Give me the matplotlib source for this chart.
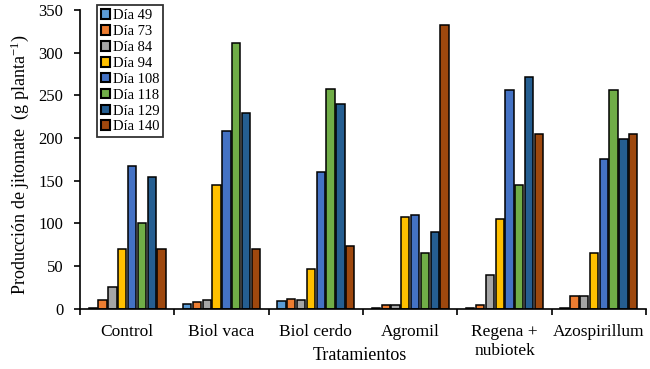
import numpy as np
import matplotlib.pyplot as plt
from matplotlib.patches import Patch

plt.rcParams['font.family'] = 'Liberation Serif'
plt.rcParams['mathtext.fontset'] = 'custom'
plt.rcParams['mathtext.rm'] = 'Liberation Serif'
plt.rcParams['mathtext.it'] = 'Liberation Serif:italic'

tratamientos = ['Control', 'Biol vaca', 'Biol cerdo', 'Agromil', 'Regena +\nnubiotek', 'Azospirillum']
dias = ['Día 49', 'Día 73', 'Día 84', 'Día 94', 'Día 108', 'Día 118', 'Día 129', 'Día 140']
colores = ['#5B9BD5', '#ED7D31', '#A5A5A5', '#FFC000', '#4472C4', '#70AD47', '#255E91', '#9E480E']

d49 = [1, 6, 9, 1, 1, 1]
d73 = [10, 8, 11, 4, 5, 15]
d84 = [26, 10, 10, 5, 40, 15]
d94 = [70, 145, 47, 107, 105, 65]
d108 = [167, 208, 160, 110, 256, 176]
d118 = [101, 311, 257, 65, 145, 256]
d129 = [154, 229, 240, 90, 271, 199]
d140 = [70, 70, 74, 332, 205, 205]
series = [d49, d73, d84, d94, d108, d118, d129, d140]

fig = plt.figure(figsize=(6.5, 3.69), dpi=100)
ax = fig.add_axes([0.123, 0.163, 0.871, 0.81])

x = np.arange(len(tratamientos)) + 0.5
pitch = 0.104
w = 0.088
for k in range(len(series)):
    ax.bar(x + (k - 3.5) * pitch, series[k], w, color=colores[k],
           edgecolor='black', linewidth=1.1, label=dias[k])

ax.set_xlim(0, 6)
ax.set_ylim(0, 350)
ax.set_yticks(np.arange(0, 351, 50))
ax.set_xticks(np.arange(0, 7))
ax.set_xticklabels([])
ax.set_xticks(x, minor=True)
ax.set_xticklabels(tratamientos, minor=True, fontsize=12.5, va='top', linespacing=1.25)
ax.tick_params(axis='x', which='minor', length=0, pad=11)
ax.tick_params(axis='x', which='major', length=4, width=1.2, direction='out')
ax.tick_params(axis='y', length=4, width=1.2, labelsize=12, pad=8)
ax.spines['top'].set_visible(False)
ax.spines['right'].set_visible(False)
ax.spines['left'].set_linewidth(1.2)
ax.spines['bottom'].set_linewidth(1.2)

handles = [Patch(facecolor=colores[k], edgecolor='black', linewidth=1.5) for k in range(8)]
leg = ax.legend(handles, dias, loc='upper left', bbox_to_anchor=(0.025, 1.025),
                fontsize=10.5, frameon=True, fancybox=False, borderpad=0.25,
                handlelength=0.65, handleheight=0.65, handletextpad=0.2,
                labelspacing=0.2, borderaxespad=0.2)
leg.get_frame().set_edgecolor('black')
leg.get_frame().set_linewidth(1.3)

fig.text(360 / 650, 1 - 355 / 369, 'Tratamientos', ha='center', va='center', fontsize=13)
fig.text(20 / 650, 1 - 165 / 369, 'Producción de jitomate  (g planta$^{-1}$)',
         rotation=90, ha='center', va='center', fontsize=13)

fig.savefig('out.png', dpi=100)
